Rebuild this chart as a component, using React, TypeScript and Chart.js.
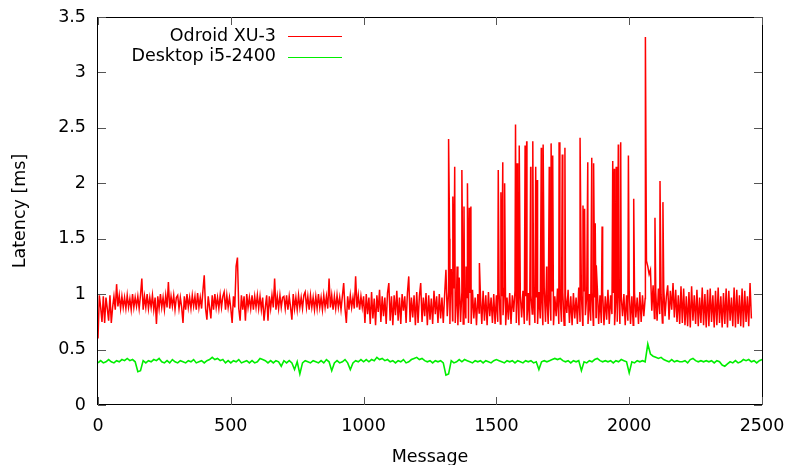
import React, { useEffect, useRef } from 'react';
import { Chart, registerables } from 'chart.js';

Chart.register(...registerables);

// ---------- data ----------
const RED_STEP = 5; // message spacing of the red baseline samples
const redBase: number[] = [
  0.60,0.99,0.88,0.75,0.98,0.74,0.97,0.87,0.76,0.99,0.74,0.88,0.98,0.86,1.09,0.89,0.99,0.87,0.98,0.88,
  0.97,0.87,0.99,0.88,0.96,0.86,1.00,0.88,0.97,0.89,0.98,0.87,0.99,1.14,0.86,0.98,0.88,1.00,0.87,0.97,
  0.88,0.99,0.86,0.97,0.73,0.98,0.87,1.00,0.88,0.97,0.86,0.99,0.88,1.11,0.87,0.98,0.89,0.99,0.86,0.97,
  0.99,0.87,0.97,0.88,0.74,0.98,0.86,1.00,0.88,0.97,0.87,0.99,0.89,0.98,0.86,1.01,0.88,0.97,0.87,1.03,
  1.17,0.87,0.77,0.98,0.88,0.78,0.99,0.86,1.00,0.88,0.97,0.87,0.99,0.88,0.98,1.02,0.86,0.99,0.88,0.97,
  0.87,0.74,0.98,0.88,1.25,1.33,0.87,0.76,0.99,0.86,0.98,0.76,1.00,0.88,0.97,0.87,0.99,0.86,0.98,0.88,
  0.99,0.87,0.98,0.86,0.97,0.76,0.88,0.99,0.76,0.98,0.87,0.99,0.88,1.14,0.86,0.98,0.87,0.99,0.88,0.97,
  0.98,0.87,0.99,0.86,0.98,0.88,0.77,1.00,0.87,0.97,0.86,0.99,0.88,0.97,0.87,0.99,1.02,0.88,0.98,0.86,
  0.99,0.88,0.97,0.86,0.98,0.87,1.00,0.88,0.97,0.86,0.99,0.88,0.98,0.87,1.14,0.88,0.99,0.86,0.98,0.87,
  0.99,0.88,0.97,0.86,0.98,1.10,0.87,0.74,0.98,0.86,0.99,0.88,0.97,0.87,1.16,0.88,0.99,0.86,0.98,0.88,
  0.98,0.74,1.00,0.82,0.97,0.73,1.02,0.78,0.96,0.72,0.99,0.84,1.04,0.75,0.98,0.80,0.97,0.73,1.01,1.10,
  0.76,0.98,0.72,0.99,0.81,1.03,0.76,0.97,0.73,1.00,0.85,0.98,0.74,1.01,1.16,0.75,0.97,0.79,0.99,0.72,
  1.02,0.74,0.98,1.10,0.75,0.97,0.80,1.01,0.72,0.99,0.77,0.96,0.73,1.03,0.82,0.98,0.74,1.00,0.78,0.97,
  0.74,0.99,1.22,0.80,1.02,0.73,1.22,0.76,1.05,0.74,0.98,0.72,1.15,0.75,1.02,0.73,1.00,0.78,0.97,0.74,
  1.01,0.73,1.04,0.78,0.97,0.72,1.00,0.83,0.98,0.73,1.03,0.76,0.99,0.72,1.02,0.80,0.97,0.74,1.00,0.73,
  0.99,0.75,1.02,0.73,0.98,0.81,1.05,0.72,0.97,0.77,1.01,0.73,0.99,0.84,1.03,0.74,0.98,0.72,1.00,0.79,
  1.03,0.73,0.98,0.76,1.01,0.72,0.99,0.82,1.04,0.74,0.97,0.73,1.02,0.78,0.98,0.72,1.06,0.75,0.99,0.73,
  1.00,0.76,1.03,0.72,0.98,0.80,1.05,0.73,0.97,0.75,1.02,0.72,0.99,0.83,1.04,0.74,0.98,0.72,1.01,0.78,
  0.97,0.73,1.06,0.75,0.99,0.72,1.03,0.81,0.98,0.73,1.00,0.76,1.02,0.72,0.97,0.79,1.05,0.73,0.99,0.74,
  1.02,0.72,0.98,0.77,1.04,0.73,0.99,0.82,1.01,0.72,0.97,0.75,1.05,0.73,0.98,0.80,1.00,0.72,0.99,0.76,
  1.03,0.73,0.98,0.72,1.01,0.79,0.97,0.73,1.02,0.75,0.99,0.80,0.96,1.30,1.25,1.18,1.22,0.85,1.08,0.78,
  1.02,0.76,1.05,0.82,1.00,0.74,1.06,0.80,0.98,1.08,0.77,1.03,0.86,1.10,0.79,1.04,0.75,0.99,0.73,1.07,
  0.74,1.05,0.72,0.98,0.71,1.02,0.70,1.07,0.76,0.99,0.73,1.04,0.71,0.97,0.74,1.06,0.72,1.00,0.70,1.04,
  0.71,1.05,0.75,0.99,0.70,1.03,0.72,1.06,0.74,0.98,0.70,1.01,0.73,1.05,0.70,1.03,0.76,0.97,0.71,1.06,
  0.70,1.04,0.73,0.99,0.71,1.05,0.70,1.03,0.75,0.98,0.71,1.10,0.78,
];

// isolated latency spikes of the Odroid: [message, latency ms]
const redSpikes: [number, number][] = [
  [1320,2.40],[1324,1.50],[1328,1.22],[1336,1.88],[1343,2.15],[1352,1.25],[1370,2.12],[1378,1.79],
  [1386,1.25],[1391,2.00],[1398,1.78],[1404,1.79],[1436,1.28],[1507,2.12],[1517,1.92],[1524,2.19],
  [1531,2.00],[1572,2.53],[1578,2.18],[1586,2.34],[1608,2.34],[1614,2.38],[1629,2.15],[1637,2.38],
  [1648,2.15],[1654,2.03],[1669,2.32],[1676,2.35],[1689,1.25],[1699,2.15],[1706,2.36],[1712,2.25],
  [1736,2.37],[1739,1.61],[1748,2.26],[1758,2.32],[1815,2.41],[1826,1.80],[1832,1.77],[1844,2.19],
  [1859,2.23],[1866,2.18],[1872,1.64],[1876,1.26],[1898,1.61],[1938,2.20],[1944,2.13],[1951,2.15],
  [1954,1.55],[1959,2.35],[1968,2.37],[1997,2.25],[2017,1.86],[2061,3.32],[2097,1.69],[2116,2.02],
  [2127,1.83],
];

const GREEN_STEP = 10;
const greenValues: number[] = [
  0.38,0.40,0.38,0.39,0.41,0.39,0.38,0.40,0.39,0.41,
  0.40,0.42,0.40,0.41,0.39,0.30,0.31,0.40,0.38,0.40,
  0.39,0.41,0.40,0.42,0.39,0.38,0.40,0.38,0.41,0.39,
  0.38,0.40,0.39,0.38,0.40,0.39,0.41,0.38,0.39,0.40,
  0.38,0.40,0.41,0.43,0.41,0.42,0.40,0.41,0.38,0.40,
  0.38,0.40,0.39,0.41,0.38,0.39,0.40,0.38,0.40,0.38,
  0.39,0.42,0.41,0.40,0.38,0.40,0.38,0.40,0.39,0.35,
  0.40,0.38,0.40,0.38,0.32,0.39,0.28,0.38,0.40,0.39,
  0.38,0.40,0.39,0.38,0.40,0.38,0.41,0.39,0.31,0.38,
  0.40,0.38,0.39,0.41,0.38,0.32,0.38,0.40,0.39,0.41,
  0.39,0.41,0.39,0.41,0.40,0.43,0.41,0.42,0.40,0.41,
  0.39,0.40,0.38,0.40,0.39,0.41,0.38,0.39,0.41,0.42,
  0.43,0.41,0.42,0.40,0.39,0.40,0.38,0.40,0.39,0.40,
  0.38,0.27,0.28,0.40,0.38,0.39,0.41,0.39,0.41,0.40,
  0.39,0.38,0.40,0.39,0.40,0.38,0.40,0.39,0.38,0.40,
  0.41,0.40,0.39,0.38,0.40,0.39,0.40,0.38,0.40,0.39,
  0.38,0.40,0.39,0.40,0.38,0.39,0.32,0.39,0.40,0.39,
  0.40,0.41,0.42,0.41,0.42,0.40,0.39,0.40,0.38,0.40,
  0.39,0.40,0.31,0.39,0.38,0.40,0.39,0.41,0.42,0.40,
  0.39,0.40,0.39,0.40,0.38,0.40,0.39,0.41,0.40,0.39,
  0.29,0.39,0.38,0.40,0.39,0.40,0.39,0.55,0.46,0.44,
  0.43,0.42,0.43,0.41,0.40,0.39,0.41,0.39,0.40,0.39,
  0.39,0.40,0.38,0.41,0.42,0.40,0.39,0.40,0.39,0.40,
  0.39,0.40,0.38,0.40,0.39,0.36,0.35,0.37,0.39,0.38,
  0.40,0.38,0.39,0.41,0.40,0.41,0.39,0.40,0.38,0.40,
  0.41,
];

const seriesNames = ['Odroid XU-3', 'Desktop i5-2400'];
const seriesColors = ['#ff0000', '#00ee00'];
const xTicks = [0, 500, 1000, 1500, 2000, 2500];
const xTickLabels = ['0', '500', '1000', '1500', '2000', '2500'];
const yTicks = [0, 0.5, 1, 1.5, 2, 2.5, 3, 3.5];
const yTickLabels = ['0', '0.5', '1', '1.5', '2', '2.5', '3', '3.5'];
const xTitle = 'Message';
const yTitle = 'Latency [ms]';

const FONT = '17.5px "DejaVu Sans", sans-serif';

const gnuplotPlugin = {
  id: 'gnuplotFrame',
  afterDatasetsDraw(chart: any) {
    const { ctx, chartArea: a, scales } = chart;
    const xs = scales.x;
    const ys = scales.y;
    ctx.save();
    // frame
    ctx.strokeStyle = '#000';
    ctx.lineWidth = 1;
    ctx.strokeRect(Math.round(a.left) - 0.5, Math.round(a.top) + 0.5, Math.round(a.right - a.left) + 1, Math.round(a.bottom - a.top) - 1);
    // ticks (inward, mirrored)
    ctx.strokeStyle = '#555';
    const TL = 8;
    ctx.beginPath();
    xTicks.forEach((v) => {
      const px = Math.round(xs.getPixelForValue(v)) + 0.5;
      ctx.moveTo(px, a.bottom); ctx.lineTo(px, a.bottom - TL);
      ctx.moveTo(px, a.top); ctx.lineTo(px, a.top + TL);
    });
    yTicks.forEach((v) => {
      const py = Math.round(ys.getPixelForValue(v)) + 0.5;
      ctx.moveTo(a.left, py); ctx.lineTo(a.left + TL, py);
      ctx.moveTo(a.right, py); ctx.lineTo(a.right - TL, py);
    });
    ctx.stroke();
    // tick labels
    ctx.fillStyle = '#000';
    ctx.font = FONT;
    ctx.textAlign = 'center';
    ctx.textBaseline = 'middle';
    xTicks.forEach((v, i) => {
      ctx.fillText(xTickLabels[i], xs.getPixelForValue(v), a.bottom + 21);
    });
    ctx.textAlign = 'right';
    yTicks.forEach((v, i) => {
      ctx.fillText(yTickLabels[i], a.left - 12, ys.getPixelForValue(v));
    });
    // axis titles
    ctx.textAlign = 'center';
    ctx.fillText(xTitle, (a.left + a.right) / 2, a.bottom + 52);
    ctx.save();
    ctx.translate(20, (a.top + a.bottom) / 2);
    ctx.rotate(-Math.PI / 2);
    ctx.fillText(yTitle, 0, 0);
    ctx.restore();
    // key (legend)
    seriesNames.forEach((name, i) => {
      const y = a.top + 19 + i * 20.5;
      ctx.textAlign = 'right';
      ctx.fillStyle = '#000';
      ctx.fillText(name, a.left + 178, y);
      ctx.strokeStyle = seriesColors[i];
      ctx.lineWidth = 1;
      ctx.beginPath();
      ctx.moveTo(a.left + 190, Math.round(y) + 0.5);
      ctx.lineTo(a.left + 244, Math.round(y) + 0.5);
      ctx.stroke();
    });
    ctx.restore();
  },
};

export default function App() {
  const canvasRef = useRef<HTMLCanvasElement | null>(null);

  useEffect(() => {
    document.body.style.margin = '0';
    const canvas = canvasRef.current;
    if (!canvas) return;

    const redPoints = redBase
      .map((v, i) => ({ x: i * RED_STEP, y: v }))
      .concat(redSpikes.map(([x, y]) => ({ x, y })))
      .sort((p, q) => p.x - q.x);
    const greenPoints = greenValues.map((v, i) => ({ x: i * GREEN_STEP, y: v }));

    const chart = new Chart(canvas, {
      type: 'line',
      data: {
        datasets: [
          {
            label: seriesNames[0],
            data: redPoints,
            borderColor: seriesColors[0],
            borderWidth: 1.5,
            pointRadius: 0,
            tension: 0,
          },
          {
            label: seriesNames[1],
            data: greenPoints,
            borderColor: seriesColors[1],
            borderWidth: 1.6,
            pointRadius: 0,
            tension: 0,
          },
        ],
      },
      options: {
        animation: false,
        responsive: false,
        maintainAspectRatio: false,
        parsing: false as any,
        normalized: true,
        layout: { padding: { top: 17, right: 28, left: 0, bottom: 0 } },
        plugins: { legend: { display: false }, tooltip: { enabled: false } },
        scales: {
          x: {
            type: 'linear',
            min: 0,
            max: 2500,
            ticks: { display: false },
            grid: { display: false, drawTicks: false },
            border: { display: false },
            afterFit: (s: any) => { s.height = 60; },
          },
          y: {
            type: 'linear',
            min: 0,
            max: 3.5,
            ticks: { display: false },
            grid: { display: false, drawTicks: false },
            border: { display: false },
            afterFit: (s: any) => { s.width = 98; },
          },
        },
      },
      plugins: [gnuplotPlugin],
    });
    return () => chart.destroy();
  }, []);

  return (
    <div style={{ position: 'absolute', left: 0, top: 0, width: 790, height: 465, background: '#fff' }}>
      <canvas ref={canvasRef} width={790} height={465} style={{ width: 790, height: 465 }} />
    </div>
  );
}
